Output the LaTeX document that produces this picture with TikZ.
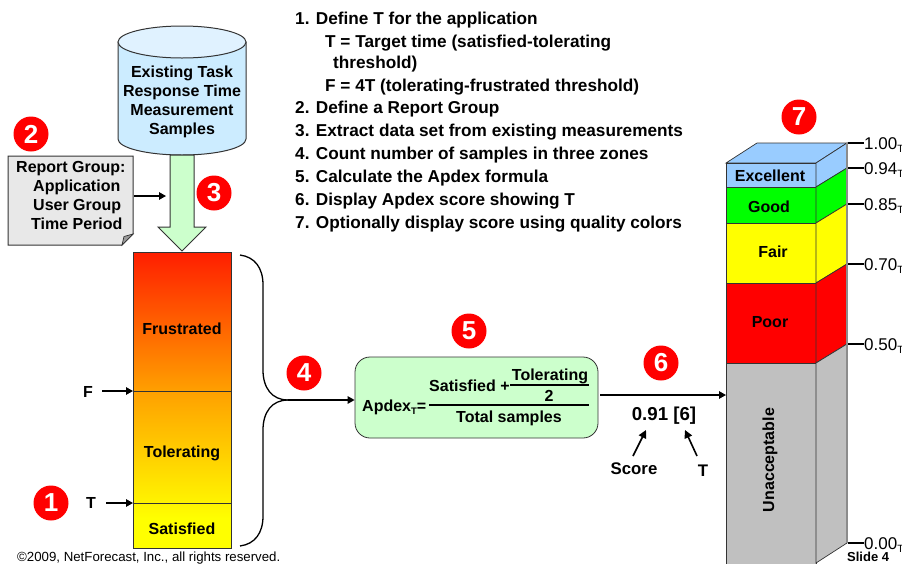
\documentclass[tikz,border=0pt]{standalone}
\usepackage{fontspec}
\setmainfont{Liberation Sans}
\usetikzlibrary{arrows.meta}
\definecolor{cylbody}{RGB}{204,236,255}
\definecolor{cyltop}{RGB}{224,242,255}
\definecolor{palegreen}{RGB}{204,255,204}
\definecolor{notegray}{RGB}{232,232,232}
\definecolor{exblue}{RGB}{153,204,255}
\definecolor{stackgray}{RGB}{192,192,192}
\definecolor{barorange}{RGB}{255,160,0}
\definecolor{bartop}{RGB}{255,30,0}
\definecolor{pureyellow}{RGB}{255,255,0}
\pgfdeclareverticalshading{zonebar}{100bp}{
  color(0bp)=(pureyellow); color(25bp)=(pureyellow); color(30bp)=(pureyellow);
  color(51.5bp)=(barorange);
  color(75bp)=(bartop); color(100bp)=(bartop)}
\newcommand{\bt}[1]{\fontsize{#1}{#1}\selectfont\bfseries}
\newcommand{\subT}{\raisebox{-3pt}{\fontsize{10.5}{10.5}\selectfont T}}
\tikzset{
  x=1pt,y=-1pt,
  badge/.style={circle,fill=red,text=white,minimum size=35,inner sep=0,font=\bt{26}},
  listline/.style={anchor=base west,inner sep=0,font=\bt{17.2}},
  lab/.style={inner sep=0,font=\bt{16}},
  tick/.style={inner sep=0,anchor=west,font=\fontsize{17}{17}\selectfont},
  conn/.style={line width=1.3pt,-{Triangle[length=7pt,width=7.5pt]}},
  edge/.style={draw=black!80,line width=.7pt},
  tickline/.style={line width=1.3pt}
}
\begin{document}
\begin{tikzpicture}
\useasboundingbox (0,0) rectangle (902,563);
\clip (0,0) rectangle (902,563);
% cylinder
\draw[edge,line width=1pt,fill=cylbody] (118,42) -- (118,139) arc[x radius=64,y radius=16,start angle=180,end angle=0] -- (246,42) -- cycle;
\draw[edge,line width=1pt,fill=cyltop] (182,42) ellipse[x radius=64,y radius=16];
\node[inner sep=0,align=center,font=\fontsize{16}{19}\selectfont\bfseries] (cyl) at (182,101.5) {Existing Task\\Response Time\\Measurement\\Samples};
% big arrow
\draw[edge,line width=1pt,fill=palegreen] (170,155) -- (194,155) -- (194,227) -- (206,227) -- (182,251) -- (158,227) -- (170,227) -- cycle;
\coordinate (arrowin) at (166,196);
% report note
\draw[edge,line width=1pt,fill=notegray] (8,156) -- (133,156) -- (133,234) -- (122,245) -- (8,245) -- cycle;
\draw[edge,fill=black!40] (133,234) -- (124,236.5) -- (122,245) -- cycle;
\node[lab,anchor=base west] (rg1) at (16,172.5) {Report Group:};
\node[lab,anchor=base west] (rg2) at (33,191.5) {Application};
\node[lab,anchor=base west] (rg3) at (33,210.5) {User Group};
\node[lab,anchor=base west] (rg4) at (31,229) {Time Period};
\coordinate (noteout) at (134,196);
\draw[conn] (noteout) -- (arrowin);
% zone bar
\node[draw=black!80,line width=1pt,minimum width=98,minimum height=296,inner sep=0,shading=zonebar] (bar) at (182,400) {};
\coordinate (Fl) at (133,391); \coordinate (Fr) at (231,391);
\coordinate (Tl) at (133,503); \coordinate (Tr) at (231,503);
\draw[black!80,line width=.8pt] (Fl) -- (Fr);
\draw[black!80,line width=.8pt] (Tl) -- (Tr);
\node[lab] (fr) at (182,329) {Frustrated};
\node[lab] (to) at (182,453.5) {Tolerating};
\node[lab] (sa) at (182,528.5) {Satisfied};
\node[lab] (Flab) at (88,392) {F};
\node[lab] (Tlab) at (91,503) {T};
\draw[conn] (102,391) -- (Fl);
\draw[conn] (106,503) -- (Tl);
% brace
\coordinate (brace) at (288,400);
\draw[line width=1.3pt] (240,255) .. controls (255,257) and (263,268) .. (263,285) -- (263,370) .. controls (263,388) and (272,400) .. (brace);
\draw[line width=1.3pt] (240,546) .. controls (255,544) and (263,533) .. (263,516) -- (263,430) .. controls (263,412) and (272,400) .. (brace);
% formula box
\node[draw=black!80,line width=.8pt,fill=palegreen,rounded corners=15,minimum width=243,minimum height=81,inner sep=0] (box) at (476.5,397.5) {};
\draw[conn] (brace) -- (box.west |- brace);
\node[lab,anchor=west] (apd) at (362,407) {Apdex\raisebox{-3pt}{\fontsize{9.5}{9.5}\selectfont T}=};
\node[lab,anchor=west] (sat) at (429,386) {Satisfied +};
\node[lab] (tol) at (550,376) {Tolerating};
\node[lab] (two) at (549,396) {2};
\node[lab] (tot) at (509,418.5) {Total samples};
\draw[line width=1.3pt] (510,385) -- (589,385);
\draw[line width=1.3pt] (429,405) -- (589,405);
% stack
\coordinate (fa) at (726,163);\coordinate (fb) at (816,163);\coordinate (ba) at (757,143);\coordinate (bb) at (847,143);
\draw[edge,fill=exblue] (fa) -- (ba) -- (bb) -- (fb) -- cycle;
\draw[edge,fill=exblue] (fa) rectangle (816,187);
\draw[edge,fill=exblue] (816,163) -- (847,143) -- (847,168) -- (816,187) -- cycle;
\draw[edge,fill=green] (726,187) rectangle (816,223);
\draw[edge,fill=green] (816,187) -- (847,168) -- (847,204) -- (816,223) -- cycle;
\draw[edge,fill=pureyellow] (726,223) rectangle (816,283);
\draw[edge,fill=pureyellow] (816,223) -- (847,204) -- (847,264) -- (816,283) -- cycle;
\draw[edge,fill=red] (726,283) rectangle (816,363);
\draw[edge,fill=red] (816,283) -- (847,264) -- (847,344) -- (816,363) -- cycle;
\draw[edge,fill=stackgray] (726,363) rectangle (816,575);
\draw[edge,fill=stackgray] (816,363) -- (847,344) -- (847,543) -- (816,563) -- cycle;
\draw[black!45,line width=1.2pt] (847,143) -- (847,543);
\node[lab] (ex) at (770,176) {Excellent};
\node[lab] (go) at (769,207) {Good};
\node[lab] (fa2) at (773,252) {Fair};
\node[lab] (po) at (770,322.5) {Poor};
\node[lab,rotate=90] (un) at (770,460) {Unacceptable};
% ticks
\foreach \y/\t/\n in {143/1.00/a,168/0.94/b,204/0.85/c,264/0.70/d,344/0.50/e,543/0.00/f}{
  \node[tick] (tk\n) at (864,\y+2) {\t\subT};
  \draw[tickline] (848,\y) -- (tk\n.west |- 0,\y);
}
% score
\coordinate (into) at (726,395);
\draw[conn] (600,395) -- (into);
\node[inner sep=0,font=\bt{18.7}] (score) at (664,416) {0.91 [6]};
\node[inner sep=0,font=\bt{16.8}] (scl) at (634,469) {Score};
\node[inner sep=0,font=\bt{16.8}] (tl2) at (703,471) {T};
\draw[line width=1.6pt,-{Triangle[length=8pt,width=8pt]}] (633,456) -- (646,430);
\draw[line width=1.6pt,-{Triangle[length=8pt,width=8pt]}] (697,456) -- (685,430);
% badges
\node[badge] (b1) at (51,503) {1};
\node[badge] (b2) at (31,134) {2};
\node[badge] (b3) at (214,193) {3};
\node[badge] (b4) at (304,373) {4};
\node[badge] (b5) at (469,331) {5};
\node[badge] (b6) at (661,363) {6};
\node[badge] (b7) at (799,117) {7};
% list
\node[listline] (l1) at (295,24) {1. Define T for the application};
\node[listline] (l2) at (325,47) {T = Target time (satisfied-tolerating};
\node[listline] (l3) at (333,68) {threshold)};
\node[listline] (l4) at (325,91) {F = 4T (tolerating-frustrated threshold)};
\node[listline] (l5) at (295,113) {2. Define a Report Group};
\node[listline] (l6) at (295,136) {3. Extract data set from existing measurements};
\node[listline] (l7) at (295,159) {4. Count number of samples in three zones};
\node[listline] (l8) at (295,182) {5. Calculate the Apdex formula};
\node[listline] (l9) at (295,205) {6. Display Apdex score showing T};
\node[listline] (l10) at (295,228) {7. Optionally display score using quality colors};
% footer
\node[inner sep=0,anchor=west,font=\fontsize{13.25}{13.25}\selectfont] (copy) at (17,558.5) {©2009, NetForecast, Inc., all rights reserved.};
\node[inner sep=0,anchor=west,font=\bt{13}] (slide) at (847,556.5) {Slide 4};
\end{tikzpicture}
\end{document}
